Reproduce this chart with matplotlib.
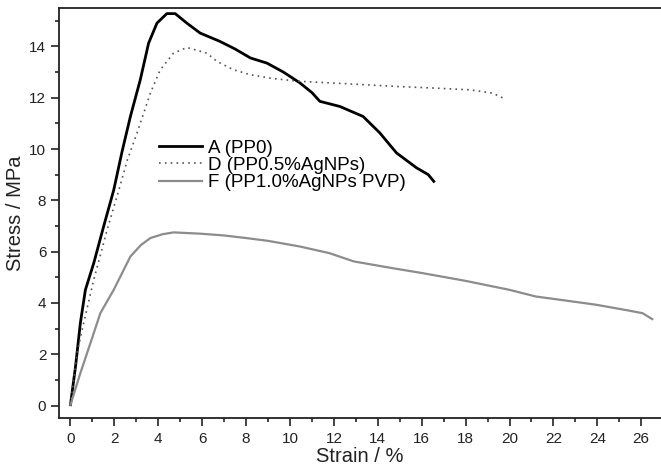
import numpy as np
import matplotlib.pyplot as plt
from matplotlib.ticker import MultipleLocator

plt.rcParams['font.family'] = ['Liberation Sans', 'DejaVu Sans']

# 曲线数据
strain_a = [0.0, 0.23, 0.45, 0.68, 1.06, 1.51, 1.97, 2.35, 2.73, 3.18, 3.56, 3.94, 4.39, 4.77,
            5.3, 5.91, 6.8, 7.5, 8.2, 8.95, 9.7, 10.45, 11.0, 11.36, 12.27, 13.33, 14.09, 14.85, 15.76, 16.3, 16.55]
stress_a = [0.03, 1.52, 3.21, 4.51, 5.55, 6.98, 8.4, 9.9, 11.27, 12.7, 14.13, 14.91, 15.28, 15.28,
            14.91, 14.52, 14.2, 13.9, 13.55, 13.35, 13.0, 12.58, 12.2, 11.86, 11.66, 11.27, 10.63, 9.85, 9.27, 9.0, 8.74]

strain_d = [0.0, 0.3, 0.6, 1.06, 1.67, 2.22, 2.6, 3.03, 3.64, 4.09, 4.7, 5.3, 6.21, 6.67, 7.4,
            8.18, 9.2, 10.45, 12.5, 14.85, 16.5, 18.18, 19.23, 19.7]
stress_d = [0.03, 2.04, 3.21, 4.9, 6.85, 8.45, 9.6, 10.62, 12.18, 13.09, 13.74, 13.96, 13.74, 13.42, 13.1,
            12.9, 12.75, 12.64, 12.55, 12.44, 12.38, 12.31, 12.18, 11.99]

strain_f = [0.0, 0.45, 1.06, 1.36, 1.97, 2.73, 3.2, 3.64, 4.2, 4.7, 5.91, 7.0,
            8.0, 9.0, 10.45, 11.8, 12.9, 14.5, 16.05, 18.0, 20.0, 21.2, 22.5, 23.94, 25.45, 26.06, 26.5]
stress_f = [0.03, 1.26, 2.82, 3.6, 4.51, 5.81, 6.25, 6.53, 6.68, 6.75, 6.7, 6.63,
            6.53, 6.42, 6.2, 5.94, 5.62, 5.38, 5.16, 4.86, 4.51, 4.25, 4.1, 3.93, 3.7, 3.6, 3.37]

labels = ['A (PP0)', 'D (PP0.5%AgNPs)', 'F (PP1.0%AgNPs PVP)']

fig = plt.figure(figsize=(6.61, 4.69), dpi=100)
ax = fig.add_axes([0.09, 0.108, 0.91, 0.875])

ax.plot(strain_a, stress_a, color='black', lw=2.0, label=labels[0])
ax.plot(strain_d, stress_d, color='#555555', lw=1.2, ls=(0, (1, 2.5)), label=labels[1])
ax.plot(strain_f, stress_f, color='#8c8c8c', lw=1.6, label=labels[2])

ax.set_xlim(-0.5, 26.9)
ax.set_ylim(-0.5, 15.5)
ax.xaxis.set_major_locator(MultipleLocator(2))
ax.xaxis.set_minor_locator(MultipleLocator(1))
ax.yaxis.set_major_locator(MultipleLocator(2))
ax.yaxis.set_minor_locator(MultipleLocator(1))
ax.tick_params(which='both', direction='out', width=1.2, labelsize=11, colors='#222222')
ax.tick_params(which='major', length=6)
ax.tick_params(which='minor', length=3)

for s in ['left', 'bottom', 'top']:
    ax.spines[s].set_linewidth(1.3)
    ax.spines[s].set_color('#222222')
ax.spines['right'].set_visible(False)

ax.set_xlabel('Strain / %', fontsize=14.5, color='#222222', labelpad=1)
ax.set_ylabel('Stress / MPa', fontsize=14.5, color='#222222', labelpad=3)

ax.legend(loc='upper left', bbox_to_anchor=(0.138, 0.72), frameon=False, fontsize=13.5,
          handlelength=2.3, handletextpad=0.27, labelspacing=0.0)

fig.savefig('out.png', dpi=100)
